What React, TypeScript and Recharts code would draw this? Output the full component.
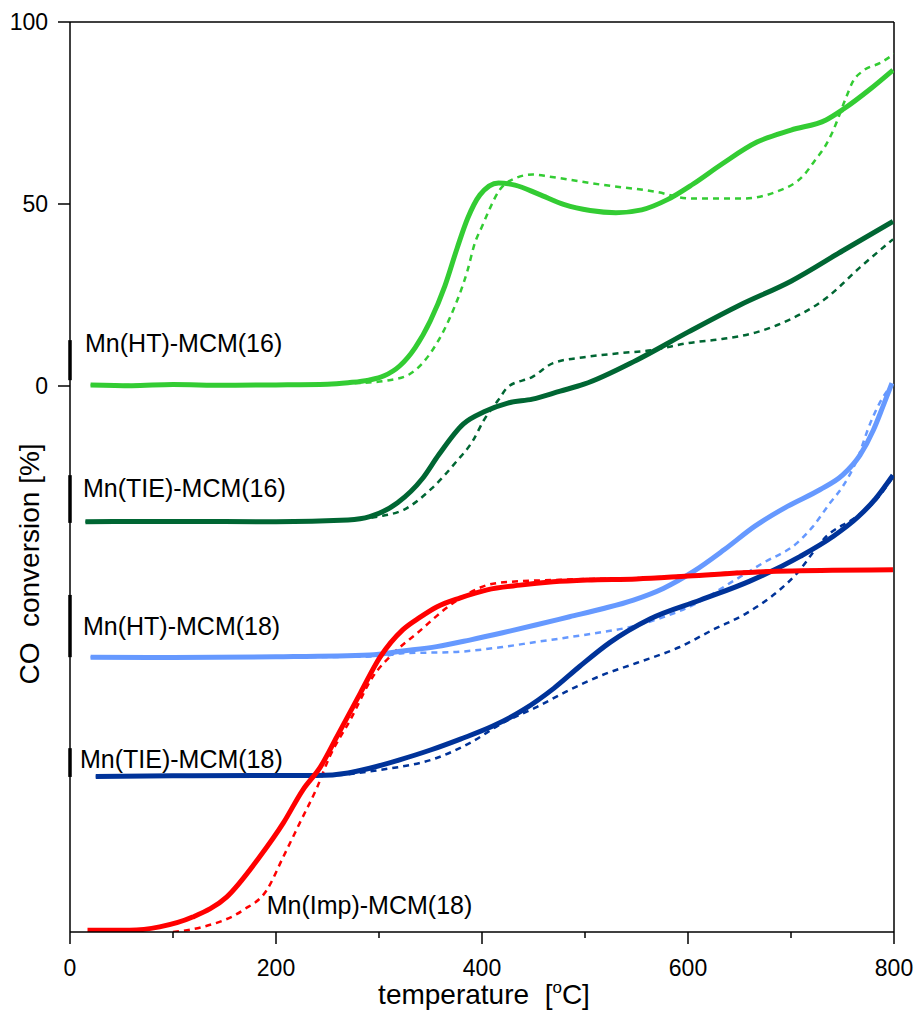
import React from "react";
import { LineChart, Line, XAxis, YAxis, ReferenceLine, ReferenceDot, Label } from "recharts";

type Pt = [number, number];

// temperature [°C], plotted conversion (curves are stacked with offsets)
const ht16Solid: Pt[] = [[20,0.3],[60,0.1],[100,0.4],[150,0.2],[200,0.3],[250,0.5],[270,0.9],[290,1.6],[305,2.8],[320,5.5],[335,10.5],[350,18],[364,27.5],[376,38],[386,46],[398,52.5],[416,55.8],[432,55.2],[455,52.7],[480,49.8],[505,48.2],[530,47.6],[555,48.4],[580,51.2],[605,55.5],[633,61.0],[667,67.0],[700,70.3],[734,73.1],[751,76.1],[777,81.6],[799,86.8]];
const ht16Dashed: Pt[] = [[20,0.3],[100,0.3],[200,0.2],[280,0.8],[310,1.6],[330,3.3],[352,9.9],[370,19.5],[386,31.8],[393,39.2],[400,43.8],[408,49.0],[416,53.4],[426,56.2],[449,58.1],[466,57.5],[516,55.3],[568,53.4],[602,51.5],[652,51.5],[686,53.4],[713,58.1],[723,61.9],[733,65.8],[740,69.6],[753,78.9],[760,83.6],[770,86.6],[787,88.8],[800,91.2]];

const tie16Solid: Pt[] = [[15,-37.3],[100,-37.2],[200,-37.3],[270,-36.8],[291,-35.9],[318,-32.1],[342,-25.5],[358,-18.9],[382,-10.4],[402,-7.1],[425,-4.7],[449,-3.6],[476,-1.4],[499,0.5],[550,7.1],[600,14.8],[650,22.2],[700,28.8],[751,37.3],[799,45.2]];
const tie16Dashed: Pt[] = [[15,-37.3],[100,-37.3],[200,-37.2],[280,-36.6],[300,-35.8],[324,-34],[351,-28.2],[375,-20.8],[391,-15.1],[402,-9.3],[416,-3.8],[425,-0.3],[449,2.5],[469,6.3],[499,7.9],[533,9.0],[566,9.9],[600,11.8],[633,12.9],[667,14.8],[700,18.4],[734,24.1],[767,32.6],[799,40.3]];

const ht18Solid: Pt[] = [[20,-74.5],[100,-74.6],[200,-74.4],[291,-73.9],[323,-72.8],[356,-71.6],[388,-69.8],[420,-67.8],[453,-65.6],[485,-63.4],[517,-61.2],[547,-58.8],[576,-55.6],[605,-51.0],[635,-45.0],[665,-38.5],[697,-33.0],[728,-28.5],[750,-24.5],[767,-19.0],[780,-12.1],[789,-5.8],[798,0.8]];
const ht18Dashed: Pt[] = [[20,-74.5],[200,-74.5],[300,-74.3],[323,-73.4],[372,-73.1],[420,-71.7],[453,-70.3],[485,-69.0],[517,-67.6],[544,-66.2],[576,-63.5],[609,-59.6],[641,-54.1],[673,-48.6],[706,-43.1],[721,-38.7],[738,-32.1],[750,-27.7],[764,-20.3],[777,-10.2],[786,-4.7],[796,-0.3]];

const tie18Solid: Pt[] = [[25,-107.3],[100,-107.1],[200,-107.0],[240,-107.0],[270,-106.3],[291,-105],[320,-102.7],[350,-100],[379,-97],[410,-93.5],[440,-89],[470,-83],[495,-77],[524,-70.5],[563,-64],[612,-58.8],[660,-53.6],[709,-46.8],[740,-41.5],[765,-36],[782,-31],[799,-24.5]];
const tie18Dashed: Pt[] = [[25,-107.3],[150,-107.2],[250,-107.0],[300,-105.5],[356,-102.2],[388,-98.1],[420,-92.6],[453,-88.2],[485,-83.5],[517,-79.4],[550,-76.1],[592,-71.7],[624,-67.0],[657,-62.4],[689,-56.0],[706,-51.4],[721,-45.9],[731,-42.3],[764,-35.8],[782,-31.5],[799,-25.0]];

const imp18Solid: Pt[] = [[17,-149.5],[58,-149.5],[87,-148.6],[119,-145.9],[152,-140.4],[184,-129.4],[207,-120.1],[226,-111.0],[243,-104.7],[259,-96.4],[282,-84.3],[301,-74.5],[323,-67.0],[340,-63.5],[356,-60.7],[379,-58.2],[405,-56.0],[437,-54.7],[469,-53.8],[502,-53.3],[550,-53.0],[600,-52.2],[673,-51.0],[740,-50.6],[799,-50.5]];
const imp18Dashed: Pt[] = [[100,-150],[129,-148.6],[168,-144],[191,-138.5],[207,-129.4],[223,-120.1],[240,-110.2],[252,-101.9],[272,-91.8],[294,-79.9],[314,-73.4],[337,-67.9],[372,-59.6],[405,-54.7],[427,-53.8],[469,-53.3],[502,-53.0],[550,-52.8],[600,-52.0],[673,-50.8],[740,-50.5],[799,-50.4]];

const xTicks = [0, 100, 200, 300, 400, 500, 600, 700, 800];
const yTicks = [0, 50, 100];

const curveLabels = [
  { text: "Mn(HT)-MCM(16)", t: 14.6, v: 9.3 },
  { text: "Mn(TIE)-MCM(16)", t: 12.6, v: -30.5 },
  { text: "Mn(HT)-MCM(18)", t: 12.6, v: -68.4 },
  { text: "Mn(TIE)-MCM(18)", t: 9.7, v: -104.9 },
  { text: "Mn(Imp)-MCM(18)", t: 191, v: -145 },
];

// short thick marks on the y axis next to the labels
const axisMarks: Pt[] = [[12.6, 1.6], [-24.5, -37.6], [-57.4, -74.5], [-99.5, -107.4]];

const FONT = "'Liberation Sans', Arial, sans-serif";

const series = [
  { key: "ht16d", data: ht16Dashed, color: "#33CC33", dashed: true },
  { key: "tie16d", data: tie16Dashed, color: "#006633", dashed: true },
  { key: "ht18d", data: ht18Dashed, color: "#6699FF", dashed: true },
  { key: "tie18d", data: tie18Dashed, color: "#003399", dashed: true },
  { key: "imp18d", data: imp18Dashed, color: "#FF0000", dashed: true },
  { key: "ht16", data: ht16Solid, color: "#33CC33", dashed: false },
  { key: "tie16", data: tie16Solid, color: "#006633", dashed: false },
  { key: "ht18", data: ht18Solid, color: "#6699FF", dashed: false },
  { key: "tie18", data: tie18Solid, color: "#003399", dashed: false },
  { key: "imp18", data: imp18Solid, color: "#FF0000", dashed: false },
];

const toRows = (pts: Pt[]) => pts.map(([t, v]) => ({ t, v }));

function XTick(props: any) {
  const { x, y, payload } = props;
  const major = payload.value % 200 === 0;
  return (
    <g>
      <line x1={x} x2={x} y1={y} y2={y + (major ? 12 : 6)} stroke="#000" strokeWidth={1.5} />
      {major && (
        <text x={x} y={y + 44} textAnchor="middle" fontSize={23} fontFamily={FONT} fill="#000">
          {payload.value}
        </text>
      )}
    </g>
  );
}

function XTitle(props: any) {
  const { x, y, width } = props.viewBox;
  return (
    <text x={x + width / 2 + 2} y={y + 72} textAnchor="middle" fontSize={28} fontFamily={FONT} fill="#000" style={{ whiteSpace: "pre" }}>
      {"temperature  ["}
      <tspan fontSize={17} dy={-11}>o</tspan>
      <tspan dy={11}>C]</tspan>
    </text>
  );
}

function YTitle() {
  const cx = 29;
  const cy = 564;
  return (
    <text x={cx} y={cy} transform={`rotate(-90, ${cx}, ${cy})`} textAnchor="middle" dominantBaseline="central" fontSize={28} fontFamily={FONT} fill="#000" style={{ whiteSpace: "pre" }}>
      {"CO  conversion [%]"}
    </text>
  );
}

export default function App() {
  return (
    <div style={{ position: "absolute", left: 0, top: 0 }}>
      <LineChart width={914} height={1014} margin={{ top: 22, right: 20, left: 0, bottom: 0 }}>
        <XAxis
          dataKey="t"
          type="number"
          domain={[0, 800]}
          ticks={xTicks}
          interval={0}
          tickLine={false}
          tickSize={0}
          tickMargin={0}
          tick={<XTick />}
          height={82}
          axisLine={{ stroke: "#000", strokeWidth: 1.5 }}
          allowDataOverflow
        >
          <Label content={<XTitle />} />
        </XAxis>
        <YAxis
          type="number"
          domain={[-150, 100]}
          ticks={yTicks}
          interval={0}
          width={70}
          tickSize={12}
          tickMargin={10}
          tick={{ fontSize: 23, fontFamily: FONT, fill: "#000" }}
          tickLine={{ stroke: "#000", strokeWidth: 1.5 }}
          axisLine={{ stroke: "#000", strokeWidth: 1.5 }}
          allowDataOverflow
        >
          <Label content={<YTitle />} />
        </YAxis>
        <ReferenceLine y={100} stroke="#000" strokeWidth={1.5} />
        <ReferenceLine x={800} stroke="#000" strokeWidth={1.5} />
        {axisMarks.map(([a, b], i) => (
          <ReferenceLine key={`m${i}`} segment={[{ x: 0, y: a }, { x: 0, y: b }]} stroke="#000" strokeWidth={3.5} />
        ))}
        {series.map((s) => (
          <Line
            key={s.key}
            data={toRows(s.data)}
            dataKey="v"
            type="monotone"
            stroke={s.color}
            strokeWidth={s.dashed ? 2.5 : 5}
            strokeDasharray={s.dashed ? "6 5" : undefined}
            dot={false}
            activeDot={false}
            isAnimationActive={false}
          />
        ))}
        {curveLabels.map((l) => (
          <ReferenceDot
            key={l.text}
            x={l.t}
            y={l.v}
            r={0}
            shape={(p: any) => (
              <text x={p.cx} y={p.cy} fontSize={25} fontFamily={FONT} fill="#000">
                {l.text}
              </text>
            )}
          />
        ))}
      </LineChart>
    </div>
  );
}
